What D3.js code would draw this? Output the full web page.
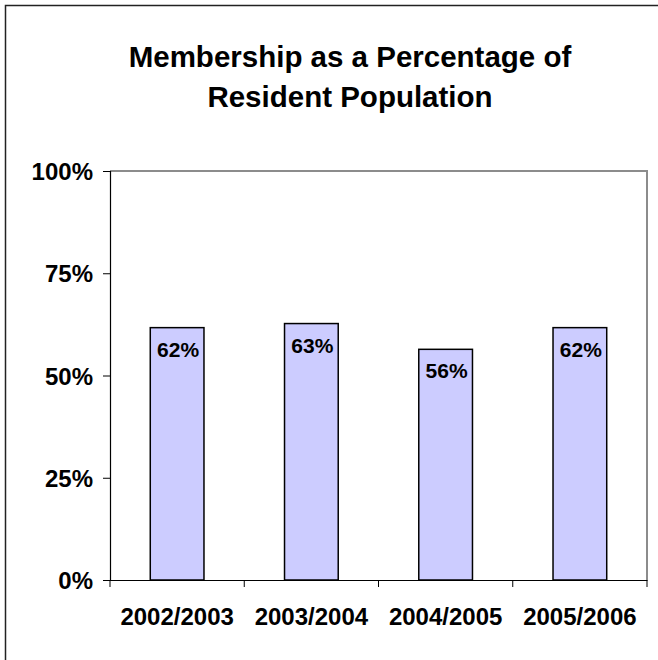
<!DOCTYPE html>
<html>
<head>
<meta charset="utf-8">
<script src="https://cdn.jsdelivr.net/npm/d3@7"></script>
<style>
  body { margin: 0; background: #fff; }
  svg { display: block; font-family: "Liberation Sans", Arial, sans-serif; font-weight: bold; }
</style>
</head>
<body>
<svg id="chart" width="658" height="660"></svg>
<script>
var seasons = ["2002/2003", "2003/2004", "2004/2005", "2005/2006"];
var membership = [0.617, 0.627, 0.564, 0.617];
var yTicks = [0, 0.25, 0.5, 0.75, 1];
var titleLines = ["Membership as a Percentage of", "Resident Population"];

var svg = d3.select("#chart"),
    margin = {top: 171, right: 11, bottom: 80, left: 110},
    width = +svg.attr("width") - margin.left - margin.right,
    height = +svg.attr("height") - margin.top - margin.bottom;

// outer chart border (only top/left show inside the picture)
svg.append("rect")
    .attr("x", 5.5).attr("y", 5.5)
    .attr("width", 700).attr("height", 700)
    .attr("fill", "none")
    .attr("stroke", "#222")
    .attr("stroke-width", 1.5);

svg.append("g")
    .attr("text-anchor", "middle")
    .style("font-size", "29.5px")
  .selectAll("text")
  .data(titleLines)
  .enter().append("text")
    .attr("x", 350)
    .attr("y", function(d, i) { return 67 + i * 40; })
    .text(function(d) { return d; });

var g = svg.append("g").attr("transform", "translate(" + margin.left + "," + margin.top + ")");

var x = d3.scaleBand()
    .domain(seasons)
    .range([0, width]);

var y = d3.scaleLinear()
    .domain([0, 1])
    .range([height, 0]);

// plot area frame, gray on top and right
g.append("path")
    .attr("d", "M0,0H" + width + "V" + height)
    .attr("fill", "none")
    .attr("stroke", "#8c8c8c")
    .attr("stroke-width", 2);

var barW = x.bandwidth() * 0.4;

g.append("g")
  .selectAll("rect")
  .data(membership)
  .enter().append("rect")
    .attr("x", function(d, i) { return x(seasons[i]) + (x.bandwidth() - barW) / 2; })
    .attr("y", function(d) { return y(d); })
    .attr("width", barW)
    .attr("height", function(d) { return height - y(d); })
    .attr("fill", "#ccccff")
    .attr("stroke", "#000")
    .attr("stroke-width", 1.5);

g.append("g")
    .attr("text-anchor", "middle")
    .style("font-size", "21px")
  .selectAll("text")
  .data(membership)
  .enter().append("text")
    .attr("x", function(d, i) { return x(seasons[i]) + x.bandwidth() / 2 + 1; })
    .attr("y", function(d) { return y(d) + 29; })
    .text(function(d) { return d3.format(".0%")(d); });

var yAxis = g.append("g")
    .call(d3.axisLeft(y).tickValues(yTicks).tickFormat(d3.format(".0%")).tickSize(7).tickPadding(10));

var xAxis = g.append("g")
    .attr("transform", "translate(0," + height + ")")
    .call(d3.axisBottom(x).tickSize(0).tickPadding(28));

// ticks between categories on the x axis
xAxis.selectAll(".edge")
  .data(d3.range(seasons.length + 1))
  .enter().append("line")
    .attr("class", "edge")
    .attr("x1", function(i) { return i * x.step(); })
    .attr("x2", function(i) { return i * x.step(); })
    .attr("y1", 0).attr("y2", 7)
    .attr("stroke", "#000");

svg.selectAll(".domain").attr("stroke", "#000").attr("stroke-width", 1.2);
svg.selectAll(".tick text")
    .attr("fill", "#000")
    .style("font-size", "24px")
    .style("font-family", "Liberation Sans, Arial, sans-serif")
    .style("font-weight", "bold");
yAxis.selectAll(".tick text").attr("dy", "0.36em");
</script>
</body>
</html>
